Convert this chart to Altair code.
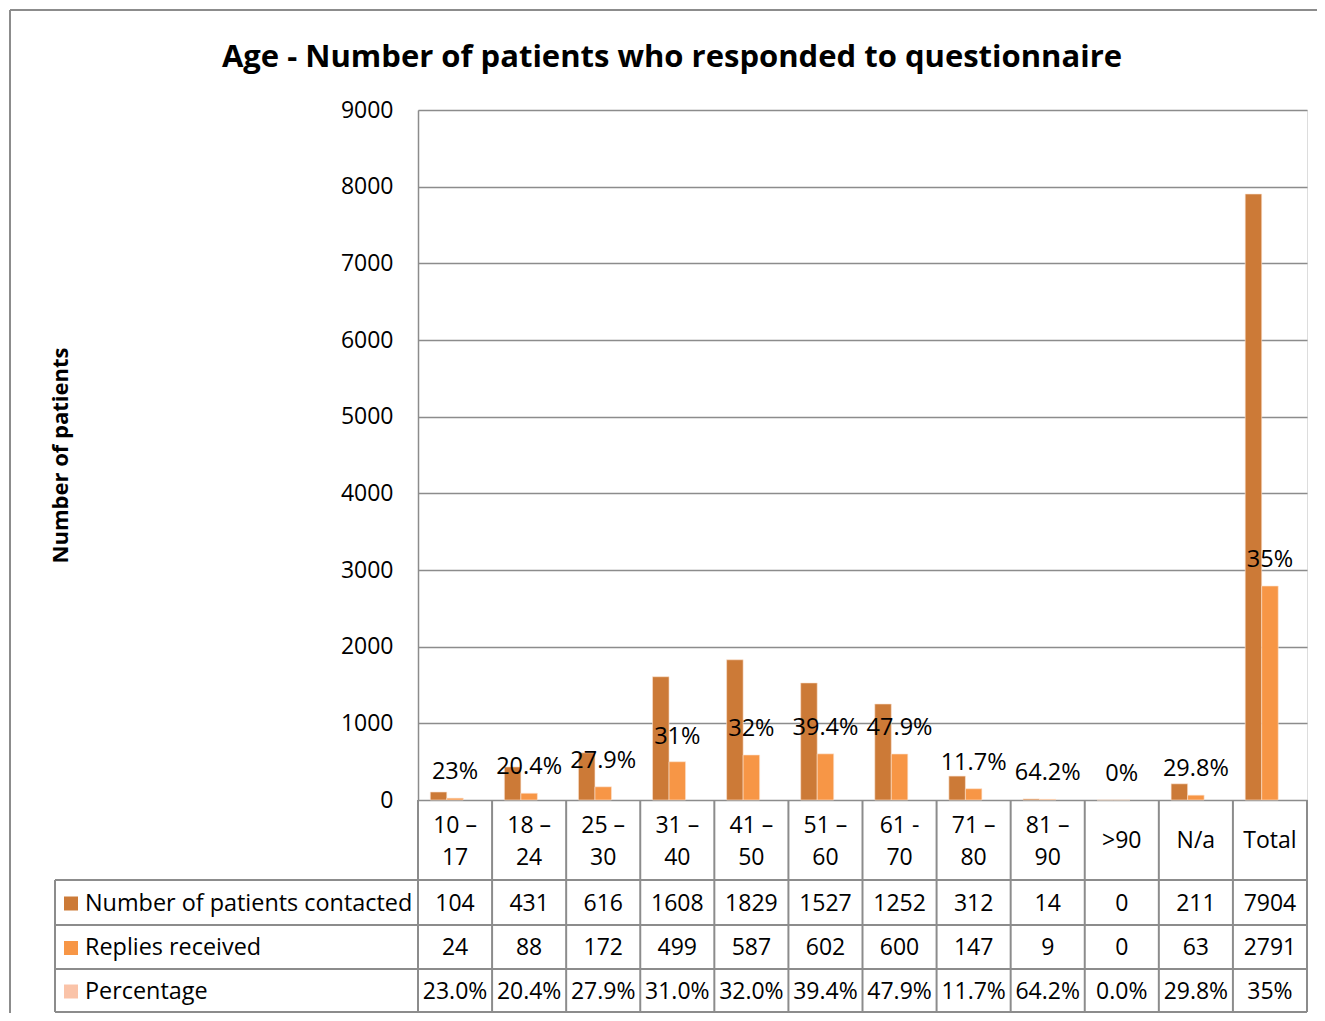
import altair as alt
import pandas as pd

# ---------------- data ----------------
categories = ["10 – 17", "18 – 24", "25 – 30", "31 – 40", "41 – 50", "51 – 60",
              "61 - 70", "71 – 80", "81 – 90", ">90", "N/a", "Total"]
header_labels = ["10 –\n17", "18 –\n24", "25 –\n30", "31 –\n40", "41 –\n50", "51 –\n60",
                 "61 -\n70", "71 –\n80", "81 –\n90", ">90", "N/a", "Total"]
contacted = [104, 431, 616, 1608, 1829, 1527, 1252, 312, 14, 0, 211, 7904]
replies = [24, 88, 172, 499, 587, 602, 600, 147, 9, 0, 63, 2791]
percent_table = ["23.0%", "20.4%", "27.9%", "31.0%", "32.0%", "39.4%", "47.9%",
                 "11.7%", "64.2%", "0.0%", "29.8%", "35%"]
percent_labels = ["23%", "20.4%", "27.9%", "31%", "32%", "39.4%", "47.9%",
                  "11.7%", "64.2%", "0%", "29.8%", "35%"]
# height (in patients) at which each percentage label sits in the picture
percent_label_level = [365, 430, 509, 822, 926, 939, 939, 483, 352, 339, 404, 3130]
series_names = ["Number of patients contacted", "Replies  received", "Percentage"]
y_ticks = [0, 1000, 2000, 3000, 4000, 5000, 6000, 7000, 8000, 9000]
title_text = "Age - Number of patients who responded to questionnaire"
y_title = "Number of patients"

# ---------------- styling ----------------
COLORS = ["#CC7A37", "#F79646", "#FAC3A8"]
GRID = "#8C8C8C"
FONT = "Open Sans"
FS = 23
W, H = 889, 690
ROW_Y = [690, 770, 815, 859, 902]  # table row boundaries (pixels from plot top)

bar_df = pd.DataFrame(
    [{"cat": c, "series": series_names[0], "value": v} for c, v in zip(categories, contacted)]
    + [{"cat": c, "series": series_names[1], "value": v} for c, v in zip(categories, replies)]
)
label_df = pd.DataFrame({"cat": categories, "label": percent_labels, "level": percent_label_level})
header_df = pd.DataFrame({"cat": categories, "txt": header_labels})
header_multi = header_df[header_df["txt"].str.contains("\n")]
header_single = header_df[~header_df["txt"].str.contains("\n")]

xscale = alt.Scale(domain=categories, paddingInner=0, paddingOuter=0)
X = alt.X("cat:N", scale=xscale, axis=None, sort=categories)

bars = alt.Chart(bar_df).mark_bar(stroke="#FBE3D0", strokeWidth=0.6).encode(
    x=X,
    xOffset=alt.XOffset("series:N", scale=alt.Scale(domain=series_names, paddingInner=0, paddingOuter=0.745)),
    y=alt.Y("value:Q", scale=alt.Scale(domain=[0, 9000], nice=False),
            axis=alt.Axis(values=y_ticks, format="d", grid=True, gridColor=GRID, gridWidth=1.5,
                          domain=True, domainColor=GRID, domainWidth=1.5, ticks=False,
                          labelFont=FONT, labelFontSize=FS, labelColor="black", labelPadding=25,
                          title=y_title, titleFont=FONT, titleFontSize=22, titleFontWeight="bold",
                          titleColor="black", titleX=-358, titleY=H / 2, titleAngle=-90,
                          titleAlign="center", titleBaseline="middle")),
    color=alt.Color("series:N", scale=alt.Scale(domain=series_names, range=COLORS), legend=None),
)

pct_text = alt.Chart(label_df).mark_text(font=FONT, fontSize=23.5, color="black", baseline="middle").encode(
    x=X, y=alt.Y("level:Q"), text="label:N"
)

# table grid lines
hlines = alt.Chart(pd.DataFrame({"yy": ROW_Y[1:]})).mark_rule(color=GRID, strokeWidth=2).encode(
    x=alt.value(-363), x2=alt.value(W), y=alt.Y("yy:Q", scale=None)
)
vlines = alt.Chart(pd.DataFrame({"cat": categories})).mark_rule(color=GRID, strokeWidth=2).encode(
    x=alt.X("cat:N", scale=xscale, axis=None, sort=categories, bandPosition=0),
    y=alt.value(ROW_Y[0]), y2=alt.value(ROW_Y[-1])
)
last_vline = alt.Chart(pd.DataFrame({"a": [0]})).mark_rule(color=GRID, strokeWidth=2).encode(
    x=alt.value(W), y=alt.value(ROW_Y[0]), y2=alt.value(ROW_Y[-1])
)
legend_vline = alt.Chart(pd.DataFrame({"a": [0]})).mark_rule(color=GRID, strokeWidth=2).encode(
    x=alt.value(-363), y=alt.value(ROW_Y[1]), y2=alt.value(ROW_Y[-1])
)

hy = (ROW_Y[0] + ROW_Y[1]) / 2
header1 = alt.Chart(header_multi).mark_text(font=FONT, fontSize=FS, color="black", baseline="middle",
                                            lineBreak="\n", lineHeight=32, dy=-14).encode(
    x=X, y=alt.value(hy), text="txt:N"
)
header2 = alt.Chart(header_single).mark_text(font=FONT, fontSize=FS, color="black", baseline="middle").encode(
    x=X, y=alt.value(hy + 1), text="txt:N"
)

layers = [bars, pct_text, hlines, vlines, last_vline, legend_vline, header1, header2]

row_values = [[str(v) for v in contacted], [str(v) for v in replies], percent_table]
for r in range(3):
    yc = (ROW_Y[r + 1] + ROW_Y[r + 2]) / 2 + 1
    df = pd.DataFrame({"cat": categories, "txt": row_values[r]})
    layers.append(alt.Chart(df).mark_text(font=FONT, fontSize=FS, color="black", baseline="middle").encode(
        x=X, y=alt.value(yc), text="txt:N"))
    ldf = pd.DataFrame({"name": [series_names[r]]})
    layers.append(alt.Chart(ldf).mark_text(font=FONT, fontSize=23.4, color="black", baseline="middle",
                                           align="left").encode(
        x=alt.value(-333), y=alt.value(yc), text="name:N"))
    layers.append(alt.Chart(ldf).mark_rect(color=COLORS[r]).encode(
        x=alt.value(-354), x2=alt.value(-340), y=alt.value(yc - 7), y2=alt.value(yc + 7)))

title = alt.Chart(pd.DataFrame({"t": [title_text]})).mark_text(
    font=FONT, fontSize=31, fontWeight="bold", color="black", baseline="middle").encode(
    x=alt.value(254), y=alt.value(-52), text="t:N")
layers.append(title)

# outer chart frame (left and top edges visible in the picture)
frame_top = alt.Chart(pd.DataFrame({"a": [0]})).mark_rule(color=GRID, strokeWidth=2).encode(
    x=alt.value(-408), x2=alt.value(910), y=alt.value(-100))
frame_left = alt.Chart(pd.DataFrame({"a": [0]})).mark_rule(color=GRID, strokeWidth=2).encode(
    x=alt.value(-408), y=alt.value(-100), y2=alt.value(910))
layers += [frame_top, frame_left]

chart = alt.layer(*layers).properties(
    width=W, height=H,
    autosize=alt.AutoSizeParams(type="none"),
    padding={"left": 410, "top": 102, "right": 10, "bottom": 213},
).configure_view(stroke=None).configure(background="white")

chart.save("out.html", embed_options={"renderer": "svg", "actions": False})
